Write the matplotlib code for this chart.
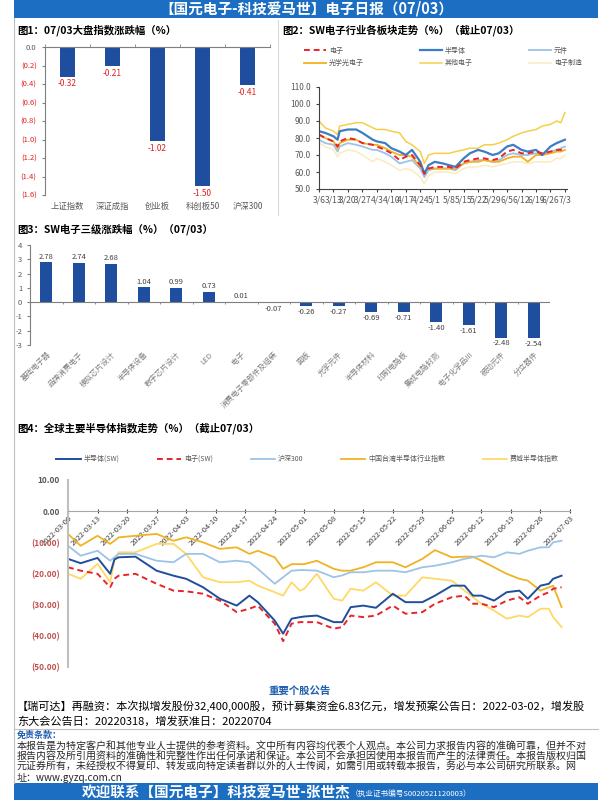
import numpy as np
import pandas as pd
import matplotlib
matplotlib.use('Agg')
import matplotlib.pyplot as plt
from matplotlib.patches import Rectangle
from matplotlib.lines import Line2D
from matplotlib.text import Annotation

plt.rcParams['font.family'] = ['Noto Sans CJK SC', 'DejaVu Sans']
plt.rcParams['axes.unicode_minus'] = False

# ---------------- 数据 ----------------
# 图1 大盘指数涨跌幅
idx_names = ['上证指数', '深证成指', '创业板', '科创板50', '沪深300']
idx_chg = [-0.32, -0.21, -1.02, -1.50, -0.41]

# 图2 SW电子各板块走势
sw_dates = ['2022-03-06', '2022-03-09', '2022-03-13', '2022-03-15', '2022-03-16', '2022-03-20',
            '2022-03-24', '2022-03-27', '2022-04-01', '2022-04-03', '2022-04-07', '2022-04-10',
            '2022-04-14', '2022-04-17', '2022-04-20', '2022-04-24', '2022-04-26', '2022-04-28',
            '2022-05-01', '2022-05-05', '2022-05-08', '2022-05-11', '2022-05-15', '2022-05-18',
            '2022-05-22', '2022-05-25', '2022-05-29', '2022-06-01', '2022-06-05', '2022-06-08',
            '2022-06-12', '2022-06-15', '2022-06-19', '2022-06-22', '2022-06-26', '2022-06-29',
            '2022-07-01', '2022-07-03']
sw_dianzi = [82, 80, 78, 75, 78, 80, 79, 77, 76, 75, 73, 71, 67, 69, 70, 64, 59, 62, 63, 63, 63, 62,
             66, 67, 68, 68, 67, 68, 72, 73, 71, 71, 72, 71, 72, 73, 73, 74]
sw_bdt = [84, 83, 81, 79, 84, 85, 85, 83, 79, 78, 77, 74, 72, 70, 73, 66, 59, 64, 66, 65, 64, 63,
          68, 71, 73, 72, 70, 71, 75, 76, 73, 72, 73, 70, 75, 77, 78, 79]
sw_yj = [79, 77, 76, 72, 75, 77, 76, 75, 73, 73, 71, 69, 65, 66, 67, 62, 57, 61, 62, 62, 62, 61,
         65, 66, 67, 67, 66, 67, 70, 71, 70, 70, 71, 70, 72, 73, 74, 75]
sw_gx = [82, 80, 78, 74, 77, 79, 79, 77, 76, 76, 74, 72, 70, 70, 69, 63, 60, 62, 62, 62, 62, 62,
         65, 66, 66, 67, 66, 66, 68, 69, 69, 66, 70, 70, 71, 72, 72, 73]
sw_qt = [90, 86, 84, 82, 87, 88, 89, 89, 86, 85, 85, 84, 83, 78, 76, 72, 65, 70, 71, 71, 71, 72,
         73, 74, 74, 76, 76, 77, 79, 81, 83, 84, 85, 87, 88, 90, 89, 95]
sw_zz = [77, 75, 73, 69, 71, 73, 72, 70, 66, 68, 66, 64, 61, 62, 61, 57, 53, 58, 60, 60, 60, 59,
         62, 63, 63, 64, 63, 64, 65, 66, 66, 65, 66, 66, 66, 68, 68, 70]

# 图3 SW电子三级涨跌幅
l3_names = ['基础电子器', '品牌消费电子', '模拟芯片设计', '半导体设备', '数字芯片设计', 'LED', '电子',
            '消费电子零部件及组装', '面板', '光学元件', '半导体材料', '印制电路板', '集成电路封测',
            '电子化学品III', '被动元件', '分立器件']
l3_chg = [2.78, 2.74, 2.68, 1.04, 0.99, 0.73, 0.01, -0.07, -0.26, -0.27, -0.69, -0.71, -1.40,
          -1.61, -2.48, -2.54]

# 图4 全球主要半导体指数走势
gl_dates = ['2022-03-06', '2022-03-09', '2022-03-13', '2022-03-16', '2022-03-17', '2022-03-18',
            '2022-03-22', '2022-03-27', '2022-03-31', '2022-04-03', '2022-04-07', '2022-04-11',
            '2022-04-15', '2022-04-18', '2022-04-20', '2022-04-24', '2022-04-26', '2022-04-28',
            '2022-04-30', '2022-05-01', '2022-05-04', '2022-05-08', '2022-05-10', '2022-05-12',
            '2022-05-15', '2022-05-18', '2022-05-22', '2022-05-25', '2022-05-29', '2022-06-01',
            '2022-06-05', '2022-06-08', '2022-06-10', '2022-06-12', '2022-06-15', '2022-06-18',
            '2022-06-21', '2022-06-23', '2022-06-26', '2022-06-28', '2022-06-29', '2022-07-01']
gl_bdt = [-15.3, -16.7, -15.0, -20.1, -15.5, -14.8, -14.6, -19.1, -20.7, -21.7, -24.4, -28.1,
          -30.3, -27.1, -29.2, -35.1, -39.3, -34.5, -34.0, -33.8, -33.5, -35.6, -35.6, -30.8,
          -30.3, -31.0, -26.5, -29.2, -29.2, -27.1, -23.9, -23.9, -27.1, -27.1, -28.7, -26.0,
          -25.5, -28.1, -23.9, -23.3, -21.7, -20.7]
gl_dz = [-18.0, -19.1, -20.1, -24.4, -21.7, -20.7, -20.1, -23.3, -25.5, -25.7, -26.5, -28.7,
         -32.4, -31.3, -30.3, -36.1, -41.7, -36.1, -35.6, -35.6, -35.6, -37.7, -37.2, -33.5,
         -34.0, -33.5, -30.3, -32.9, -32.4, -29.7, -27.6, -27.1, -29.7, -29.7, -30.8, -28.7,
         -27.6, -29.7, -27.1, -26.0, -24.9, -24.4]
gl_hs300 = [-11.1, -14.3, -12.7, -15.9, -14.8, -13.7, -13.7, -15.9, -16.4, -13.7, -13.7, -16.4,
            -15.9, -16.4, -18.5, -23.3, -21.2, -19.1, -18.9, -18.9, -19.1, -21.2, -20.6, -19.6,
            -19.6, -19.1, -19.1, -19.6, -18.0, -17.5, -16.4, -15.3, -14.8, -14.3, -14.8, -13.2,
            -13.7, -12.7, -11.6, -11.6, -10.0, -9.5]
gl_tw = [-7.3, -11.1, -7.9, -10.5, -9.5, -8.4, -7.9, -7.3, -9.5, -8.4, -10.0, -12.1,
         -11.6, -13.7, -12.7, -14.8, -18.5, -17.0, -17.0, -17.0, -15.9, -18.5, -19.1, -19.1,
         -18.0, -16.4, -16.4, -18.0, -15.3, -12.5, -14.8, -14.6, -14.6, -15.9, -18.0, -20.1,
         -21.7, -22.3, -25.5, -24.4, -23.9, -30.8]
gl_sox = [-20.1, -21.7, -16.9, -22.8, -15.9, -13.2, -13.2, -10.5, -10.5, -13.7, -21.2, -22.8,
          -22.8, -22.3, -23.9, -26.0, -27.1, -22.8, -25.5, -24.9, -20.1, -28.1, -28.7, -24.9,
          -25.5, -22.8, -27.1, -27.1, -21.2, -21.7, -22.3, -25.5, -27.6, -29.7, -31.9, -34.5,
          -33.5, -34.0, -31.3, -31.3, -34.0, -37.2]

# ---------------- 画布 ----------------
W, H = 600, 800
BLUE_BAR = '#1F4E9E'
HEAD = '#1B6EC2'
RED = '#E02020'
GRAY = '#595959'

fig = plt.figure(figsize=(6, 8), dpi=100)


def box(x0, y0, x1, y1):
    return [x0 / W, 1 - y1 / H, (x1 - x0) / W, (y1 - y0) / H]


def txt(x, y, s, **kw):
    return fig.text(x / W, 1 - y / H, s, **kw)


def hline(x0, x1, y, **kw):
    fig.add_artist(Line2D([x0 / W, x1 / W], [1 - y / H, 1 - y / H], transform=fig.transFigure, **kw))


def paren(v, nd):
    if abs(v) < 1e-9:
        return f'{0:.{nd}f}'
    if v < 0:
        return f'({abs(v):.{nd}f})'
    return f'{v:.{nd}f}'


# 顶部和底部蓝条
fig.add_artist(Rectangle((14 / W, 1 - 18 / H), 584 / W, 18 / H, transform=fig.transFigure,
                         color=HEAD, lw=0))
txt(306, 9, '【国元电子-科技爱马世】电子日报（07/03）', color='white', fontsize=10.5,
    fontweight='bold', ha='center', va='center')
fig.add_artist(Rectangle((14 / W, 0), 584 / W, 17 / H, transform=fig.transFigure, color=HEAD, lw=0))
t_bot = txt(82, 792, '欢迎联系【国元电子】科技爱马世-张世杰', color='white', fontsize=10.5,
            fontweight='bold', ha='left', va='center')
fig.add_artist(Annotation('（执业证书编号S0020521120003）', xy=(1, 0.15), xycoords=t_bot,
                          color='white', fontsize=5.5, ha='left', va='bottom'))

# 左边框与分隔线
fig.add_artist(Line2D([14 / W, 14 / W], [17 / H, 1 - 18 / H], transform=fig.transFigure,
                      color='#BFBFBF', lw=0.8))
fig.add_artist(Line2D([278 / W, 278 / W], [1 - 20 / H, 1 - 215 / H], transform=fig.transFigure,
                      color='#D9D9D9', lw=0.8))

# ---------------- 图1 ----------------
txt(17, 30, '图1：07/03大盘指数涨跌幅（%）', fontsize=7.5, fontweight='bold', va='center')
ax1 = fig.add_axes(box(45, 47, 270, 195))
x1 = np.arange(len(idx_names))
ax1.bar(x1, idx_chg, width=0.33, color=BLUE_BAR)
for xi, v in zip(x1, idx_chg):
    ax1.text(xi, v - 0.03, f'{v:.2f}', ha='center', va='top', color=RED, fontsize=6)
ax1.set_xlim(-0.5, len(idx_names) - 0.5)
ax1.set_ylim(-1.6, 0)
yt1 = np.round(np.arange(-1.6, 0.01, 0.2), 1)
ax1.set_yticks(yt1, [paren(v, 1) for v in yt1])
for lab, v in zip(ax1.get_yticklabels(), yt1):
    lab.set_color(GRAY if v == 0 else RED)
ax1.set_xticks(x1, idx_names)
ax1.set_xticks(np.arange(len(idx_names) + 1) - 0.5, minor=True)
ax1.tick_params(axis='x', which='major', length=0, labelsize=6, labelcolor=GRAY, pad=5)
ax1.tick_params(axis='x', which='minor', top=True, bottom=False, direction='out', length=2.5,
                color='#7F7F7F')
ax1.tick_params(axis='y', labelsize=5.5, length=2.5, color='#7F7F7F')
for s in ['right', 'bottom']:
    ax1.spines[s].set_visible(False)
for s in ['left', 'top']:
    ax1.spines[s].set_color('#7F7F7F')
    ax1.spines[s].set_linewidth(0.8)

# ---------------- 图2 ----------------
txt(282, 30, '图2：SW电子行业各板块走势（%）（截止07/03）', fontsize=7.5, fontweight='bold',
    va='center')
ax2 = fig.add_axes(box(319, 87, 567, 189))
d2 = pd.to_datetime(sw_dates)
h_zz, = ax2.plot(d2, sw_zz, color='#FBEBC0', lw=1.1, label='电子制造')
h_qt, = ax2.plot(d2, sw_qt, color='#F7CE4A', lw=1.1, label='其他电子')
h_yj, = ax2.plot(d2, sw_yj, color='#9DC3E6', lw=1.3, label='元件')
h_gx, = ax2.plot(d2, sw_gx, color='#F2B120', lw=1.3, label='光学光电子')
h_bdt, = ax2.plot(d2, sw_bdt, color='#3C7DC4', lw=1.6, label='半导体')
h_dz, = ax2.plot(d2, sw_dianzi, color='#E8242A', lw=1.4, ls=(0, (3, 2)), label='电子')
ax2.set_ylim(50, 110)
yt2 = np.arange(50, 111, 10)
ax2.set_yticks(yt2, [f'{v:.1f}' for v in yt2])
ax2.set_xlim(pd.Timestamp('2022-03-06'), pd.Timestamp('2022-07-04'))
wk2 = pd.date_range('2022-03-06', '2022-07-03', freq='7D')
ax2.set_xticks(wk2, [f'{t.month}/{t.day}' for t in wk2])
ax2.tick_params(axis='x', labelsize=6.2, labelcolor=GRAY, length=2.5, color='#404040', pad=2)
ax2.tick_params(axis='y', labelsize=6, labelcolor=GRAY, length=2.5, color='#404040')
for s in ['right', 'top']:
    ax2.spines[s].set_visible(False)
for s in ['left', 'bottom']:
    ax2.spines[s].set_color('#404040')
    ax2.spines[s].set_linewidth(0.8)
ax2.legend(handles=[h_dz, h_gx, h_bdt, h_qt, h_yj, h_zz], ncol=3, mode='expand', frameon=False,
           loc='center', bbox_to_anchor=(298 / W, 1 - 70 / H, 290 / W, 26 / H),
           bbox_transform=fig.transFigure, fontsize=5, labelcolor=GRAY, handlelength=3.2,
           handletextpad=0.4, labelspacing=0.6)

# ---------------- 图3 ----------------
txt(17, 229, '图3：SW电子三级涨跌幅（%）（07/03）', fontsize=7.5, fontweight='bold', va='center')
ax3 = fig.add_axes(box(30, 245, 550, 345))
x3 = np.arange(len(l3_names))
ax3.bar(x3, l3_chg, width=0.36, color=BLUE_BAR)
for xi, v in zip(x3, l3_chg):
    if v >= 0:
        ax3.text(xi, v + 0.12, f'{v:.2f}', ha='center', va='bottom', color='#404040', fontsize=5.5)
    else:
        ax3.text(xi, v - 0.12, f'{v:.2f}', ha='center', va='top', color='#404040', fontsize=5.5)
ax3.axhline(0, color='#7F7F7F', lw=0.8)
ax3.vlines(np.arange(len(l3_names) + 1) - 0.5, -0.12, 0, color='#7F7F7F', lw=0.6)
ax3.set_xlim(-0.5, len(l3_names) - 0.5)
ax3.set_ylim(-3, 4)
ax3.set_yticks(np.arange(-3, 5, 1))
ax3.set_xticks(x3, l3_names, rotation=45, ha='right', rotation_mode='anchor')
ax3.tick_params(axis='x', length=0, labelsize=5.5, labelcolor='#7F7F7F', pad=4)
ax3.tick_params(axis='y', labelsize=5.5, labelcolor=GRAY, length=2, color='#7F7F7F')
for s in ['right', 'top', 'bottom']:
    ax3.spines[s].set_visible(False)
ax3.spines['left'].set_color('#7F7F7F')
ax3.spines['left'].set_linewidth(0.8)

# ---------------- 图4 ----------------
txt(17, 428, '图4：全球主要半导体指数走势（%）（截止07/03）', fontsize=7.5, fontweight='bold',
    va='center')
ax4 = fig.add_axes(box(68, 480, 570, 667))
ax4.spines['bottom'].set_position(('data', 0))
d4 = pd.to_datetime(gl_dates)
g_sox, = ax4.plot(d4, gl_sox, color='#FFD966', lw=1.3, label='费城半导体指数')
g_tw, = ax4.plot(d4, gl_tw, color='#F0B323', lw=1.3, label='中国台湾半导体行业指数')
g_hs, = ax4.plot(d4, gl_hs300, color='#9DC3E6', lw=1.3, label='沪深300')
g_dz, = ax4.plot(d4, gl_dz, color='#E8242A', lw=1.4, ls=(0, (3, 2)), label='电子(SW)')
g_bdt, = ax4.plot(d4, gl_bdt, color='#1F4E9A', lw=1.4, label='半导体(SW)')
ax4.set_ylim(-50, 10)
ax4.set_xlim(pd.Timestamp('2022-03-06'), pd.Timestamp('2022-07-03'))
yt4 = np.arange(-50, 11, 10)
ax4.set_yticks(yt4, [paren(v, 2) for v in yt4])
for lab, v in zip(ax4.get_yticklabels(), yt4):
    lab.set_color(GRAY if v >= 0 else '#C0504D')
    lab.set_fontweight('bold')
ax4.tick_params(axis='y', labelsize=6, length=0, pad=6)
wk4 = pd.date_range('2022-03-06', '2022-07-03', freq='7D')
ax4.set_xticks(wk4, [t.strftime('%Y-%m-%d') for t in wk4])
ax4.tick_params(axis='x', labelsize=5.5, labelcolor='#404040', length=2.5, direction='inout',
                color='#404040', pad=1)
plt.setp(ax4.get_xticklabels(), rotation=45, ha='right', rotation_mode='anchor')
ax4.spines['bottom'].set_color('#A6A6A6')
ax4.spines['bottom'].set_linewidth(0.8)
ax4.spines['left'].set_color('#BFBFBF')
ax4.spines['left'].set_linewidth(1.5)
for s in ['right', 'top']:
    ax4.spines[s].set_visible(False)
ax4.legend(handles=[g_bdt, g_dz, g_hs, g_tw, g_sox], ncol=5, mode='expand', frameon=False,
           loc='center', bbox_to_anchor=(50 / W, 1 - 466 / H, 515 / W, 14 / H),
           bbox_transform=fig.transFigure, fontsize=5, labelcolor=GRAY, handlelength=3.5,
           handletextpad=0.4)

# ---------------- 文字部分 ----------------
txt(300, 691, '重要个股公告', color='#1F5FAF', fontsize=7.5, fontweight='bold', ha='center',
    va='center')
txt(17, 706, '【瑞可达】再融资：本次拟增发股份32,400,000股，预计募集资金6.83亿元，增发预案公告日：2022-03-02，增发股',
    fontsize=8, va='center')
txt(17, 721, '东大会公告日：20220318，增发获准日：20220704', fontsize=8, va='center')
hline(14, 598, 729, color='#BFBFBF', lw=0.8)
txt(17, 735, '免责条款：', color='#1F5FAF', fontsize=6.5, fontweight='bold', va='center')
disc = ['本报告是为特定客户和其他专业人士提供的参考资料。文中所有内容均代表个人观点。本公司力求报告内容的准确可靠，但并不对',
        '报告内容及所引用资料的准确性和完整性作出任何承诺和保证。本公司不会承担因使用本报告而产生的法律责任。本报告版权归国',
        '元证券所有，未经授权不得复印、转发或向特定读者群以外的人士传阅，如需引用或转载本报告，务必与本公司研究所联系。网',
        '址：www.gyzq.com.cn']
for i, s in enumerate(disc):
    txt(17, 745.5 + i * 10.8, s, fontsize=7.2, va='center', color='#262626')

fig.savefig('out.png', dpi=100)
